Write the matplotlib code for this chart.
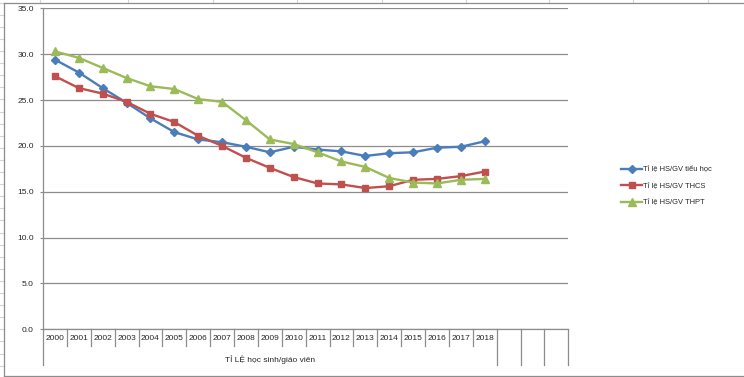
import numpy as np
import matplotlib.pyplot as plt
from matplotlib.lines import Line2D

plt.rcParams['font.family'] = ['Liberation Sans', 'DejaVu Sans']

# data
years = [str(y) for y in range(2000, 2019)]
n_empty = 3  # blank category cells after 2018
tieu_hoc = [29.4, 28.0, 26.3, 24.7, 23.0, 21.5, 20.7, 20.4, 19.9, 19.3,
            19.9, 19.6, 19.4, 18.9, 19.2, 19.3, 19.8, 19.9, 20.5]
thcs = [27.6, 26.3, 25.7, 24.8, 23.5, 22.6, 21.1, 20.0, 18.7, 17.6,
        16.6, 15.9, 15.8, 15.4, 15.6, 16.3, 16.4, 16.7, 17.2]
thpt = [30.3, 29.6, 28.5, 27.4, 26.5, 26.2, 25.1, 24.8, 22.8, 20.7,
        20.2, 19.3, 18.3, 17.7, 16.5, 16.0, 15.9, 16.3, 16.4]
labels = ['Tỉ lệ HS/GV tiểu học', 'Tỉ lệ HS/GV THCS', 'Tỉ lệ HS/GV THPT']
axis_title = 'TỈ LỆ học sinh/giáo viên'

W, H = 744, 377
fig = plt.figure(figsize=(W / 100, H / 100), dpi=100)
txt = '#262626'

# spreadsheet cells peeking around the chart frame
cell = '#d4d4d4'
for x in [40, 128, 213, 297, 382, 466, 549, 633, 708]:
    fig.add_artist(Line2D([x / W, x / W], [1, 1 - 2.5 / H], color=cell, lw=0.8))
for y in np.arange(2.6, 377, 12.1):
    fig.add_artist(Line2D([0, 4 / W], [1 - y / H, 1 - y / H], color=cell, lw=0.8))
# chart frame
frame = '#8c8c8c'
fig.add_artist(Line2D([4 / W, 4 / W], [1 - 2.5 / H, 1 - 376 / H], color=frame, lw=0.9))
fig.add_artist(Line2D([4 / W, 1], [1 - 2.5 / H, 1 - 2.5 / H], color=frame, lw=0.9))
fig.add_artist(Line2D([4 / W, 1], [1 - 376 / H, 1 - 376 / H], color=frame, lw=0.9))

x0, x1 = 43, 568.3
y_top, y_bot = 8.3, 329.3
ax = fig.add_axes([x0 / W, 1 - y_bot / H, (x1 - x0) / W, (y_bot - y_top) / H])

ncat = len(years) + n_empty
xs = np.arange(len(years)) + 0.5
ax.plot(xs, tieu_hoc, color='#4a7ebb', lw=1.7, marker='D', ms=3.6, label=labels[0])
ax.plot(xs, thcs, color='#c0504d', lw=1.7, marker='s', ms=4.3, label=labels[1])
ax.plot(xs, thpt, color='#9bbb59', lw=1.7, marker='^', ms=5.2, label=labels[2])

ax.set_xlim(0, ncat)
ax.set_ylim(0, 35)
ax.set_yticks(np.arange(0, 36, 5))
ax.set_yticklabels([f'{v:.1f}' for v in np.arange(0, 36, 5)])
ax.yaxis.grid(True, color='#8c8c8c', lw=0.9)
ax.set_axisbelow(True)
for s in ['top', 'right']:
    ax.spines[s].set_visible(False)
for s in ['left', 'bottom']:
    ax.spines[s].set_color('#8c8c8c')
    ax.spines[s].set_linewidth(0.9)
ax.tick_params(axis='y', length=2.5, color='#8c8c8c', labelsize=6, pad=4, labelcolor=txt)

ax.set_xticks(xs)
ax.set_xticklabels(years)
ax.tick_params(axis='x', length=0, labelsize=6, pad=4, labelcolor=txt)

# category table separators
ph = y_bot - y_top
short = 17 / ph
long = 36 / ph
trans = ax.get_xaxis_transform()
for b in range(ncat + 1):
    ln = long if (b == 0 or b >= len(years)) else short
    ax.plot([b, b], [0, -ln], color='#8c8c8c', lw=0.9, transform=trans, clip_on=False)
ax.text(len(years) / 2, -30 / ph, axis_title, transform=trans, ha='center', va='center',
        fontsize=6, color=txt)

fig.legend(loc='upper left', bbox_to_anchor=(621 / W, 1 - 166 / H), frameon=False,
           fontsize=5.4, handlelength=2.8, handletextpad=0.1, labelspacing=1.25,
           borderpad=0, borderaxespad=0, labelcolor=txt)

fig.savefig('out.png', dpi=100)
